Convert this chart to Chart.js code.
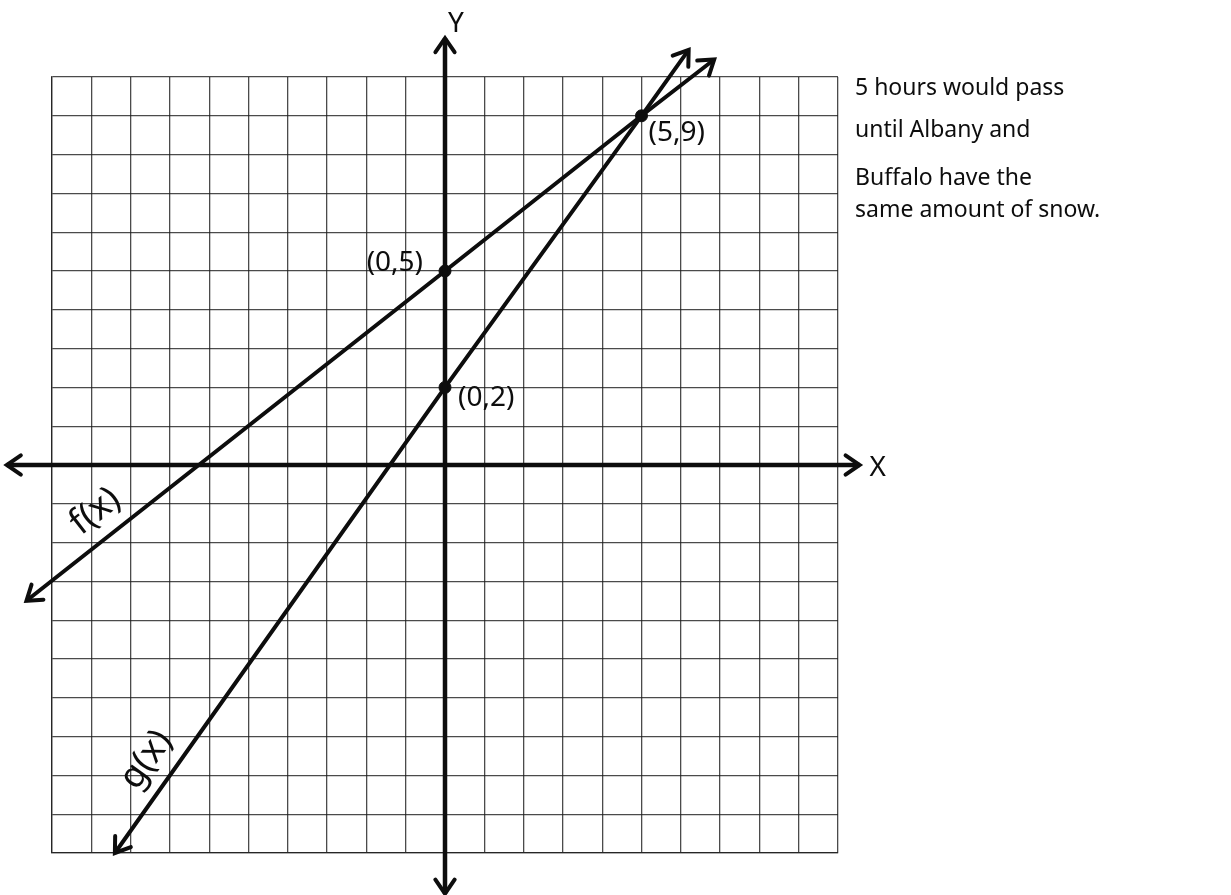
<!DOCTYPE html>
<html>
<head>
<meta charset="utf-8">
<script src="https://cdn.jsdelivr.net/npm/chart.js@4"></script>
<style>
  html, body { margin: 0; padding: 0; background: #fff; }
  #wrap { position: relative; width: 1231px; height: 895px; }
</style>
</head>
<body>
<div id="wrap"><canvas id="graph" width="1231" height="895"></canvas></div>
<script>
// line f(x), end arrow to end arrow
const fX = [-10.65, 0, 5, 6.85];
const fY = [-3.5, 5, 9, 10.45];

// line g(x)
const gX = [-8.4, 0, 5, 6.2];
const gY = [-10, 2, 9, 10.7];

// the two axes (they stick out past the grid)
const xAxisX = [-11.15, 10.55];
const yAxisY = [-11.05, 11.0];

// marked points
const ptX = [0, 0, 5];
const ptY = [5, 2, 9];
const ptNames = ['(0,5)', '(0,2)', '(5,9)'];

// line names
const lineNames = ['f(x)', 'g(x)'];

// answer written on the right
const noteLines = [
  '5 hours would pass',
  'until Albany and',
  'Buffalo have the',
  'same amount of snow.'
];

const toPts = (xs, ys) => xs.map((x, i) => ({ x: x, y: ys[i] }));

const INK = '#0d0d0d';
const HAND = '"Noto Sans", "DejaVu Sans", sans-serif';

// open "V" arrowheads at both ends of a line dataset
const arrowPlugin = {
  id: 'arrows',
  afterDatasetsDraw(chart) {
    const ctx = chart.ctx;
    chart.data.datasets.forEach((ds, i) => {
      if (!ds.arrows) return;
      const pts = chart.getDatasetMeta(i).data;
      const ends = [[pts[0], pts[1]], [pts[pts.length - 1], pts[pts.length - 2]]];
      ctx.save();
      ctx.strokeStyle = INK;
      ctx.lineWidth = 4;
      ctx.lineCap = 'round';
      ends.forEach(([tip, prev]) => {
        const a = Math.atan2(tip.y - prev.y, tip.x - prev.x);
        const len = 17, spread = 0.6;
        ctx.beginPath();
        ctx.moveTo(tip.x - len * Math.cos(a - spread), tip.y - len * Math.sin(a - spread));
        ctx.lineTo(tip.x, tip.y);
        ctx.lineTo(tip.x - len * Math.cos(a + spread), tip.y - len * Math.sin(a + spread));
        ctx.stroke();
      });
      ctx.restore();
    });
  }
};

// hand-written labels
const textPlugin = {
  id: 'handText',
  afterDraw(chart) {
    const ctx = chart.ctx;
    const xs = chart.scales.x, ys = chart.scales.y;
    ctx.save();
    ctx.fillStyle = INK;
    ctx.textBaseline = 'middle';

    // point labels
    ctx.font = '28px ' + HAND;
    const offs = [[-22, -8, 'right'], [13, 11, 'left'], [7, 17, 'left']];
    ptNames.forEach((t, i) => {
      const px = xs.getPixelForValue(ptX[i]), py = ys.getPixelForValue(ptY[i]);
      ctx.textAlign = offs[i][2];
      ctx.fillText(t, px + offs[i][0], py + offs[i][1]);
    });

    // line names, turned along their lines
    ctx.font = '36px ' + HAND;
    ctx.textAlign = 'center';
    const spots = [[-8.9, -1.2, -38], [-7.6, -7.6, -54]];
    lineNames.forEach((t, i) => {
      ctx.save();
      ctx.translate(xs.getPixelForValue(spots[i][0]), ys.getPixelForValue(spots[i][1]));
      ctx.rotate(spots[i][2] * Math.PI / 180);
      ctx.fillText(t, 0, 0);
      ctx.restore();
    });

    // axis names
    ctx.font = '28px ' + HAND;
    ctx.fillText('Y', xs.getPixelForValue(0) + 11, 24);
    ctx.fillText('X', xs.getPixelForValue(xAxisX[1]) + 18, ys.getPixelForValue(0) + 3);

    // the answer
    ctx.font = '23px ' + HAND;
    ctx.textAlign = 'left';
    const rows = [88, 130, 178, 210];
    noteLines.forEach((t, i) => ctx.fillText(t, 855, rows[i]));
    ctx.restore();
  }
};

const lineDs = (data, width, arrows) => ({
  data: data,
  showLine: true,
  borderColor: INK,
  borderWidth: width,
  pointRadius: 0,
  clip: false,
  arrows: arrows
});

new Chart(document.getElementById('graph'), {
  type: 'scatter',
  data: {
    datasets: [
      lineDs(toPts(xAxisX, [0, 0]), 4.5, true),
      lineDs(toPts([0, 0], yAxisY), 4.5, true),
      lineDs(toPts(fX, fY), 4, true),
      lineDs(toPts(gX, gY), 4, true),
      {
        data: toPts(ptX, ptY),
        pointRadius: 6,
        pointBackgroundColor: INK,
        pointBorderColor: INK,
        clip: false
      }
    ]
  },
  options: {
    responsive: false,
    animation: false,
    layout: { padding: { left: 52, top: 77, right: 393, bottom: 42 } },
    plugins: {
      legend: { display: false },
      tooltip: { enabled: false }
    },
    scales: {
      x: {
        type: 'linear',
        min: -10,
        max: 10,
        ticks: { display: false, stepSize: 1 },
        grid: { color: 'rgba(30,30,30,0.8)', lineWidth: 1.3, drawTicks: false },
        border: { display: true, color: 'rgba(30,30,30,0.8)', width: 1.3 }
      },
      y: {
        type: 'linear',
        min: -10,
        max: 10,
        ticks: { display: false, stepSize: 1 },
        grid: { color: 'rgba(30,30,30,0.8)', lineWidth: 1.3, drawTicks: false },
        border: { display: true, color: 'rgba(30,30,30,0.8)', width: 1.3 }
      }
    }
  },
  plugins: [arrowPlugin, textPlugin]
});
</script>
</body>
</html>
